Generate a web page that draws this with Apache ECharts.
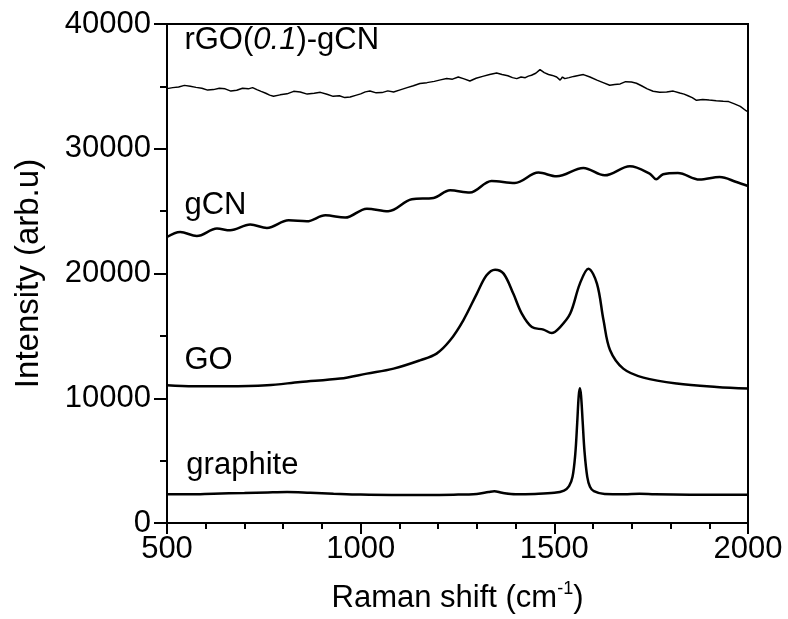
<!DOCTYPE html>
<html>
<head>
<meta charset="utf-8">
<script src="https://cdn.jsdelivr.net/npm/echarts@6/dist/echarts.min.js"></script>
<style>
  html, body { margin: 0; padding: 0; background: #fff; }
  #chart { width: 788px; height: 619px; }
</style>
</head>
<body>
<div id="chart"></div>
<script>
// Raman spectra
const graphiteX = [500, 560, 620, 700, 760, 810, 870, 930, 1000, 1080, 1160, 1240, 1300, 1330, 1345, 1365, 1400, 1450, 1500, 1525, 1538, 1547, 1554, 1559, 1563, 1566, 1569, 1573, 1578, 1585, 1592, 1602, 1630, 1680, 1720, 1760, 1850, 1950, 2000]
const graphiteY = [2300, 2300, 2350, 2400, 2450, 2480, 2420, 2350, 2280, 2250, 2250, 2270, 2330, 2480, 2550, 2420, 2300, 2330, 2420, 2600, 2950, 3700, 5500, 8000, 10200, 10800, 10200, 8200, 5700, 3700, 2900, 2550, 2320, 2300, 2350, 2300, 2270, 2270, 2270]

const goX = [500, 569, 655, 758, 844, 947, 1016, 1085, 1153, 1196, 1231, 1265, 1300, 1325, 1347, 1369, 1394, 1416, 1442, 1472, 1493, 1515, 1541, 1566, 1588, 1610, 1627, 1644, 1678, 1730, 1816, 1919, 2000]
const goY = [11040, 10960, 10960, 11040, 11300, 11575, 11975, 12375, 13040, 13580, 14645, 16250, 18390, 19855, 20310, 19990, 18390, 16785, 15710, 15500, 15230, 15710, 16785, 19190, 20390, 19190, 16250, 13845, 12375, 11655, 11175, 10900, 10775]

const gcnX = [500, 534, 577, 629, 663, 715, 758, 814, 861, 909, 960, 1016, 1071, 1132, 1188, 1231, 1282, 1338, 1398, 1459, 1506, 1575, 1630, 1695, 1746, 1763, 1781, 1819, 1875, 1927, 1970, 2000]
const gcnY = [22926, 23330, 23006, 23600, 23463, 23920, 23650, 24260, 24185, 24665, 24480, 25200, 24990, 25950, 26055, 26670, 26485, 27415, 27255, 28090, 27790, 28460, 27870, 28595, 28010, 27550, 27955, 28055, 27530, 27735, 27335, 27015]

const rgoX = [500, 515, 530, 545, 560, 575, 590, 605, 620, 635, 650, 665, 680, 695, 710, 721, 732, 743, 755, 765, 775, 792, 810, 827, 844, 862, 880, 896, 913, 929, 945, 959, 973, 987, 1000, 1012, 1024, 1040, 1055, 1070, 1085, 1102, 1120, 1136, 1153, 1171, 1190, 1206, 1222, 1237, 1252, 1267, 1282, 1298, 1315, 1333, 1351, 1365, 1380, 1392, 1403, 1414, 1425, 1433, 1441, 1452, 1463, 1474, 1485, 1495, 1506, 1511, 1515, 1521, 1527, 1538, 1550, 1562, 1575, 1592, 1610, 1626, 1643, 1656, 1670, 1684, 1699, 1712, 1725, 1740, 1755, 1772, 1790, 1807, 1824, 1835, 1845, 1856, 1867, 1883, 1900, 1918, 1936, 1950, 1965, 1980, 1996, 2000]
const rgoY = [34820, 34900, 34950, 35080, 35005, 34920, 34850, 34700, 34740, 34850, 34800, 34620, 34685, 34850, 34800, 34900, 34740, 34600, 34450, 34300, 34205, 34320, 34400, 34600, 34550, 34380, 34450, 34520, 34365, 34200, 34250, 34100, 34150, 34280, 34400, 34560, 34630, 34480, 34500, 34640, 34550, 34720, 34900, 35050, 35225, 35300, 35400, 35520, 35625, 35580, 35750, 35600, 35430, 35650, 35800, 35950, 36070, 35960, 35850, 35700, 35620, 35750, 35700, 35820, 35890, 36050, 36345, 36100, 35950, 35880, 35750, 35600, 35500, 35750, 35620, 35700, 35800, 35880, 35945, 35750, 35500, 35300, 35085, 35150, 35200, 35380, 35350, 35250, 35050, 34800, 34605, 34520, 34550, 34620, 34470, 34380, 34250, 34100, 33885, 33950, 33900, 33850, 33805, 33780, 33600, 33400, 33025, 33000]

// sample labels: [name, x, y]
const labelNames = ['rGO(0.1)-gCN', 'gCN', 'GO', 'graphite']
const labelX = [545, 545, 545, 550]
const labelY = [38700, 25450, 13050, 4650]

const xTicks = { min: 500, max: 2000, interval: 500 }
const yTicks = { min: 0, max: 40000, interval: 10000 }

const FONT = 'Liberation Sans, Arial, Helvetica, sans-serif'
const FS = 31

const zip = (xs, ys) => xs.map((x, i) => [x, ys[i]])

const chart = echarts.init(document.getElementById('chart'))

const lineSeries = (name, xs, ys, width, smooth) => ({
  name: name,
  type: 'line',
  data: zip(xs, ys),
  symbol: 'none',
  smooth: smooth,
  lineStyle: { color: '#000', width: width },
  animation: false,
  z: 3
})

const labelSeries = {
  type: 'scatter',
  symbolSize: 0,
  silent: true,
  animation: false,
  itemStyle: { opacity: 1 },
  data: labelNames.map((n, i) => ({ value: [labelX[i], labelY[i]], name: n })),
  label: {
    show: true,
    position: 'right',
    distance: 0,
    opacity: 1,
    color: '#000',
    fontFamily: FONT,
    fontSize: FS,
    formatter: p => p.name === 'rGO(0.1)-gCN' ? '{n|rGO(}{i|0.1}{n|)-gCN}' : '{n|' + p.name + '}',
    rich: {
      n: { fontSize: FS, fontFamily: FONT, color: '#000' },
      i: { fontSize: FS, fontFamily: FONT, fontStyle: 'italic', color: '#000' }
    }
  }
}

const option = {
  backgroundColor: '#fff',
  grid: {
    left: 167,
    right: 40,
    top: 24,
    bottom: 96,
    show: true,
    borderColor: '#000',
    borderWidth: 2
  },
  xAxis: {
    type: 'value',
    min: xTicks.min,
    max: xTicks.max,
    interval: xTicks.interval,
    name: '{a|Raman shift (cm}{s|-1}{a|)}',
    nameLocation: 'middle',
    nameGap: 57,
    nameTextStyle: {
      rich: {
        a: { fontSize: FS, fontFamily: FONT, color: '#000', lineHeight: 36 },
        s: { fontSize: 18, fontFamily: FONT, color: '#000', verticalAlign: 'top', lineHeight: 36 }
      }
    },
    axisLine: { lineStyle: { color: '#000', width: 2 } },
    axisTick: { length: 11, inside: false, lineStyle: { color: '#000', width: 2 } },
    minorTick: { show: true, splitNumber: 5, length: 6, lineStyle: { color: '#000', width: 2 } },
    axisLabel: { color: '#000', fontSize: FS, fontFamily: FONT, margin: 11, formatter: v => String(v) },
    splitLine: { show: false }
  },
  yAxis: {
    type: 'value',
    min: yTicks.min,
    max: yTicks.max,
    interval: yTicks.interval,
    name: 'Intensity (arb.u)',
    nameLocation: 'middle',
    nameGap: 122,
    nameTextStyle: { color: '#000', fontSize: 33, fontFamily: FONT },
    axisLine: { lineStyle: { color: '#000', width: 2 } },
    axisTick: { length: 13, inside: false, lineStyle: { color: '#000', width: 2 } },
    minorTick: { show: true, splitNumber: 2, length: 7, lineStyle: { color: '#000', width: 2 } },
    axisLabel: { color: '#000', fontSize: FS, fontFamily: FONT, margin: 16, formatter: v => String(v) },
    splitLine: { show: false }
  },
  series: [
    lineSeries('graphite', graphiteX, graphiteY, 2.5, 0.35),
    lineSeries('GO', goX, goY, 2.5, 0.35),
    lineSeries('gCN', gcnX, gcnY, 2.5, 0.35),
    lineSeries('rGO(0.1)-gCN', rgoX, rgoY, 1.5, false),
    labelSeries
  ]
}

chart.setOption(option)
</script>
</body>
</html>
